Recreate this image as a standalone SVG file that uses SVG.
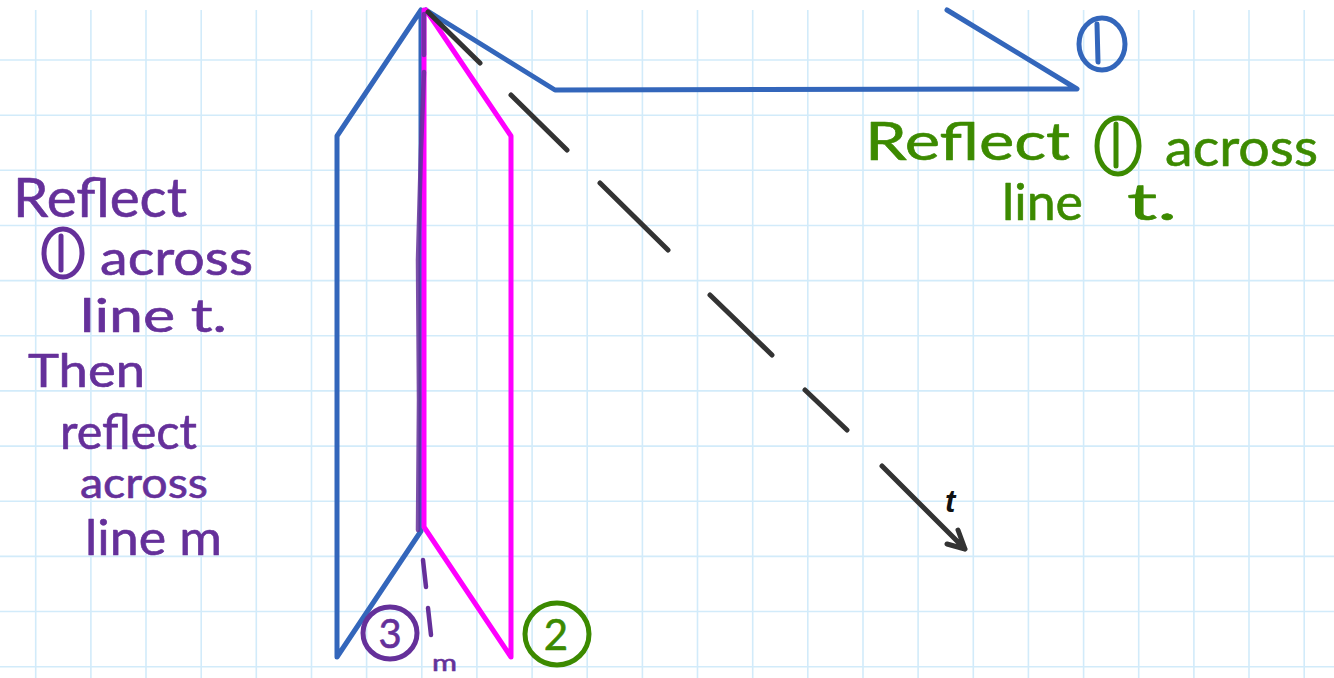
<svg xmlns="http://www.w3.org/2000/svg" width="1334" height="678" viewBox="0 0 1334 678">
<style>
.grid{stroke:#d2ebfa;stroke-width:1.6;fill:none}
.blue{stroke:#3366bb;stroke-width:5;fill:none;stroke-linejoin:round;stroke-linecap:round}
.mag{stroke:#ff00ff;stroke-width:5;fill:none;stroke-linejoin:round;stroke-linecap:round}
.tline{stroke:#333333;stroke-width:5;fill:none;stroke-linecap:round;stroke-linejoin:round}
.pur{stroke:#65309a;stroke-width:4.5;fill:none;stroke-linecap:round}
.hw{font-family:Lato,"Noto Sans",sans-serif;stroke-width:0.6;stroke-linejoin:round}
.gtx{fill:#3c8a00;stroke:#3c8a00}
.ptx{fill:#65309a;stroke:#65309a}
.btx{fill:#3366bb;stroke:#3366bb}
</style>
<rect width="1334" height="678" fill="#ffffff"/>
<g id="grid" class="grid">
<path d="M35.7 10V678M90.9 10V678M146 10V678M201.2 10V678M256.3 10V678M311.5 10V678M366.6 10V678M421.8 10V678M476.9 10V678M532.1 10V678M587.2 10V678M642.4 10V678M697.5 10V678M752.7 10V678M807.8 10V678M863 10V678M918.1 10V678M973.3 10V678M1028.4 10V678M1083.6 10V678M1138.7 10V678M1193.9 10V678M1249 10V678M1304.2 10V678"/>
<path d="M0 60H1334M0 115.2H1334M0 170.3H1334M0 225.5H1334M0 280.6H1334M0 335.8H1334M0 390.9H1334M0 446.1H1334M0 501.2H1334M0 556.4H1334M0 611.5H1334M0 666.7H1334"/>
</g>
<g id="figure1">
<polyline class="blue" points="947,10 1077,89 555,90 426,10"/>
<ellipse cx="1102" cy="44" rx="23" ry="26" fill="none" stroke="#3366bb" stroke-width="5"/>
<path d="M1097 24 L1098 62" fill="none" stroke="#3366bb" stroke-width="5" stroke-linecap="round"/>
</g>
<g id="figure3">
<polyline class="blue" points="421,10 337,136 337,657 421,531 421,10"/>
</g>
<g id="figure2">
<polyline class="mag" points="426,10 511,136 511,657 424,527 424,10"/>
</g>
<g id="line-m">
<path class="pur" d="M424 14 L424 55 M424 72 L421 150 L418 260 L419 400 L418 530" stroke-opacity="0.85"/>
<path class="pur" d="M423 560 L426 587 M428 608 L431 635"/>
<text x="432" y="671" class="hw ptx" font-size="24" textLength="25" lengthAdjust="spacingAndGlyphs">m</text>
</g>
<g id="connectors">
<path class="tline" d="M428 12L480 63M511 95L567 150M600 183L668 250M710 295L772 355M805 390L847 430M882 466L965 549M958 530L965 549L947 544"/>
<text x="945" y="512" font-family="Liberation Sans,Arial,sans-serif" font-size="31" font-weight="bold" font-style="italic" fill="#111">t</text>
</g>
<g id="label-right">
<text x="865" y="160" class="hw gtx" font-size="52" textLength="205" lengthAdjust="spacingAndGlyphs">Reflect</text>
<ellipse cx="1118" cy="146" rx="21" ry="28" fill="none" stroke="#3c8a00" stroke-width="5"/>
<path d="M1116 124 L1116 166" stroke="#3c8a00" stroke-width="5" stroke-linecap="round"/>
<text x="1165" y="166" class="hw gtx" font-size="52" textLength="153" lengthAdjust="spacingAndGlyphs">across</text>
<text x="1002" y="220" class="hw gtx" font-size="50" textLength="81" lengthAdjust="spacingAndGlyphs">line</text>
<text x="1127" y="220" class="hw gtx" font-size="50" textLength="50" lengthAdjust="spacingAndGlyphs">t.</text>
</g>
<g id="label-left">
<text x="13" y="217" class="hw ptx" font-size="54" textLength="174" lengthAdjust="spacingAndGlyphs">Reflect</text>
<ellipse cx="63" cy="253" rx="19" ry="24" fill="none" stroke="#65309a" stroke-width="5"/>
<path d="M61 236 L61 270" stroke="#65309a" stroke-width="5" stroke-linecap="round"/>
<text x="100" y="275" class="hw ptx" font-size="48" textLength="153" lengthAdjust="spacingAndGlyphs">across</text>
<text x="80" y="332" class="hw ptx" font-size="46" textLength="147" lengthAdjust="spacingAndGlyphs">line t.</text>
<text x="28" y="387" class="hw ptx" font-size="46" textLength="117" lengthAdjust="spacingAndGlyphs">Then</text>
<text x="60" y="449" class="hw ptx" font-size="48" textLength="137" lengthAdjust="spacingAndGlyphs">reflect</text>
<text x="80" y="498" class="hw ptx" font-size="42" textLength="128" lengthAdjust="spacingAndGlyphs">across</text>
<text x="85" y="555" class="hw ptx" font-size="48" textLength="137" lengthAdjust="spacingAndGlyphs">line m</text>
</g>
<g id="label-3">
<ellipse cx="390" cy="633" rx="27" ry="26" fill="none" stroke="#65309a" stroke-width="5"/>
<text x="390" y="648" class="hw ptx" font-size="40" text-anchor="middle">3</text>
</g>
<g id="label-2">
<ellipse cx="557" cy="634" rx="32" ry="31" fill="none" stroke="#3c8a00" stroke-width="5"/>
<text x="556" y="650" class="hw gtx" font-size="42" text-anchor="middle">2</text>
</g>
</svg>
